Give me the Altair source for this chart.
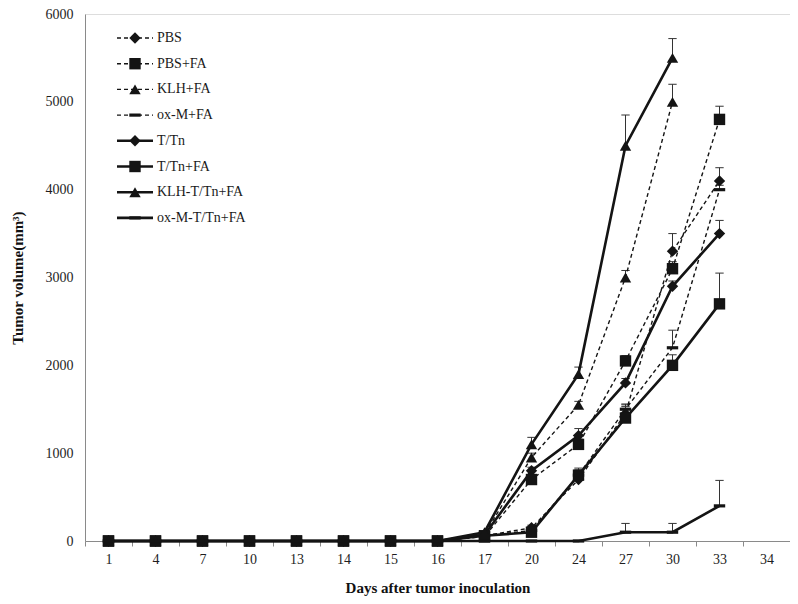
import altair as alt
import pandas as pd

days = ["1", "4", "7", "10", "13", "14", "15", "16", "17", "20", "24", "27", "30", "33", "34"]
series = ["PBS", "PBS+FA", "KLH+FA", "ox-M+FA", "T/Tn", "T/Tn+FA", "KLH-T/Tn+FA", "ox-M-T/Tn+FA"]
dashed = [True, True, True, True, False, False, False, False]

Z = [0, 0, 0, 0, 0, 0, 0, 0]
values = {
    "PBS":          Z + [60, 150, 700, 1450, 3300, 4100, None],
    "PBS+FA":       Z + [50, 700, 1100, 2050, 3100, 4800, None],
    "KLH+FA":       Z + [80, 950, 1550, 3000, 5000, None, None],
    "ox-M+FA":      Z + [60, 120, 750, 1500, 2200, 4000, None],
    "T/Tn":         Z + [70, 800, 1200, 1800, 2900, 3500, None],
    "T/Tn+FA":      Z + [60, 100, 750, 1400, 2000, 2700, None],
    "KLH-T/Tn+FA":  Z + [100, 1100, 1900, 4500, 5500, None, None],
    "ox-M-T/Tn+FA": Z + [0, 0, 0, 100, 100, 400, None],
}
errors = {
    "PBS":          Z + [0, 30, 60, 80, 200, 150, 0],
    "PBS+FA":       Z + [0, 40, 60, 60, 80, 150, 0],
    "KLH+FA":       Z + [0, 50, 40, 80, 200, 0, 0],
    "ox-M+FA":      Z + [0, 30, 60, 60, 200, 50, 0],
    "T/Tn":         Z + [0, 40, 80, 50, 60, 150, 0],
    "T/Tn+FA":      Z + [0, 30, 80, 150, 120, 350, 0],
    "KLH-T/Tn+FA":  Z + [0, 80, 80, 350, 220, 0, 0],
    "ox-M-T/Tn+FA": Z + [0, 0, 0, 100, 100, 290, 0],
}

dash_path = "M-1,-0.28L1,-0.28L1,0.28L-1,0.28Z"
shapes = ["diamond", "square", "triangle-up", dash_path,
          "diamond", "square", "triangle-up", dash_path]
sizes = [130, 130, 120, 100, 140, 170, 130, 70]

rows = []
for s, d in zip(series, dashed):
    for day, v, e in zip(days, values[s], errors[s]):
        if v is None:
            continue
        rows.append({"day": day, "series": s, "value": v, "err": e,
                     "upper": v + e, "dashed": d})
df = pd.DataFrame(rows)

FONT = "Liberation Serif"
INK = "#141414"

x_enc = alt.X("day:N", sort=days,
              scale=alt.Scale(domain=days, paddingInner=0, paddingOuter=0),
              axis=alt.Axis(title="Days after tumor inoculation", labelAngle=0,
                            tickBand="extent", tickSize=5, tickColor="#8a8a8a",
                            domainColor="#8a8a8a", labelFont=FONT, labelFontSize=14,
                            labelColor="#1e1e1e", labelPadding=6,
                            titleFont=FONT, titleFontSize=15, titleFontWeight="bold",
                            titleColor="#111", titlePadding=14))
y_enc = alt.Y("value:Q",
              scale=alt.Scale(domain=[0, 6000], nice=False),
              axis=alt.Axis(title="Tumor volume(mm³)", values=[0, 1000, 2000, 3000, 4000, 5000, 6000],
                            format="d", grid=False, ticks=False, domainColor="#8a8a8a",
                            labelFont=FONT, labelFontSize=14, labelColor="#1e1e1e",
                            labelPadding=12, titleFont=FONT, titleFontSize=15,
                            titleFontWeight="bold", titleColor="#111", titlePadding=20))

shape_scale = alt.Scale(domain=series, range=shapes)
size_scale = alt.Scale(domain=series, range=sizes)

base = alt.Chart(df)

err_df = df[df["err"] > 0]
err_rule = alt.Chart(err_df).mark_rule(color="#333", strokeWidth=1).encode(
    x=x_enc, y=y_enc, y2="upper:Q")
err_cap = alt.Chart(err_df).mark_point(shape="stroke", filled=False, stroke="#333",
                                       strokeWidth=1, size=70, opacity=1).encode(
    x=x_enc, y=alt.Y("upper:Q"))

dash_lines = base.transform_filter("datum.dashed").mark_line(
    color=INK, strokeWidth=1.4, strokeDash=[4, 3]).encode(
    x=x_enc, y=y_enc, detail="series:N")
solid_lines = base.transform_filter("!datum.dashed").mark_line(
    color=INK, strokeWidth=2.6).encode(
    x=x_enc, y=y_enc, detail="series:N")
points = base.mark_point(filled=True, color=INK, opacity=1).encode(
    x=x_enc, y=y_enc,
    shape=alt.Shape("series:N", scale=shape_scale, legend=None),
    size=alt.Size("series:N", scale=size_scale, legend=None))

# legend (layout in pixels)
leg = pd.DataFrame({
    "series": series,
    "dashed": dashed,
    "ly": [24 + 25.7 * i for i in range(len(series))],
    "lx1": [32] * len(series),
    "lx2": [68] * len(series),
    "lxm": [50] * len(series),
    "lxt": [72] * len(series),
})
lb = alt.Chart(leg)
leg_dash = lb.transform_filter("datum.dashed").mark_rule(
    color=INK, strokeWidth=1.4, strokeDash=[4, 3]).encode(
    x=alt.X("lx1:Q", scale=None), x2="lx2:Q", y=alt.Y("ly:Q", scale=None))
leg_solid = lb.transform_filter("!datum.dashed").mark_rule(
    color=INK, strokeWidth=2.6).encode(
    x=alt.X("lx1:Q", scale=None), x2="lx2:Q", y=alt.Y("ly:Q", scale=None))
leg_pts = lb.mark_point(filled=True, color=INK, opacity=1).encode(
    x=alt.X("lxm:Q", scale=None), y=alt.Y("ly:Q", scale=None),
    shape=alt.Shape("series:N", scale=shape_scale, legend=None),
    size=alt.Size("series:N", scale=size_scale, legend=None))
leg_txt = lb.mark_text(align="left", baseline="middle", font=FONT, fontSize=14,
                       color="#1a1a1a").encode(
    x=alt.X("lxt:Q", scale=None), y=alt.Y("ly:Q", scale=None), text="series:N")

chart = alt.layer(err_rule, err_cap, dash_lines, solid_lines, points,
                  leg_dash, leg_solid, leg_pts, leg_txt).properties(
    width=705, height=527,
    autosize=alt.AutoSizeParams(type="none"),
    padding={"left": 77, "top": 6, "right": 0, "bottom": 55},
).configure_view(stroke=None).configure(background="white")

chart.save("out.html", embed_options={"renderer": "svg", "actions": False})
